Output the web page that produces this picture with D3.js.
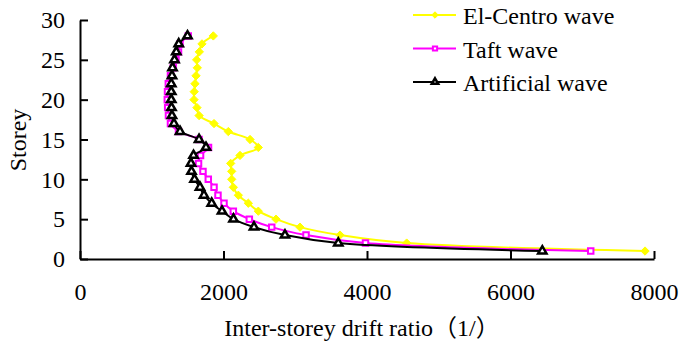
<!DOCTYPE html>
<html>
<head>
<meta charset="utf-8">
<script src="https://cdn.jsdelivr.net/npm/d3@7"></script>
<style>
  body { margin: 0; background: #fff; }
</style>
</head>
<body>
<svg id="chart" width="680" height="345"></svg>
<script>
// storey numbers (1 = ground)
const storeys = [1, 2, 3, 4, 5, 6, 7, 8, 9, 10, 11, 12, 13, 14, 15, 16, 17, 18, 19, 20, 21, 22, 23, 24, 25, 26, 27, 28];

// inter-storey drift ratio denominators
const elCentro = [7875, 4553, 3624, 3066, 2732, 2485, 2346, 2207, 2137, 2114, 2114, 2100, 2230, 2485,
  2370, 2067, 1868, 1660, 1630, 1589, 1592, 1603, 1617, 1635, 1626, 1663, 1700, 1858];
const taft = [7118, 3979, 3150, 2672, 2360, 2137, 2007, 1923, 1868, 1788, 1714, 1652, 1680, 1791,
  1659, 1373, 1261, 1233, 1222, 1217, 1220, 1231, 1261, 1300, 1338, 1373, 1394, 1509];
const artificial = [6443, 3600, 2857, 2425, 2139, 1979, 1835, 1728, 1672, 1596, 1554, 1547, 1582, 1756,
  1659, 1394, 1310, 1282, 1275, 1272, 1272, 1272, 1282, 1289, 1317, 1342, 1376, 1498];

const xTicks = [0, 2000, 4000, 6000, 8000];
const yTicks = [0, 5, 10, 15, 20, 25, 30];

const FONT = '"Liberation Serif", "Times New Roman", "Noto Sans CJK SC", serif';

const svg = d3.select("#chart");

const x = d3.scaleLinear().domain([0, 8000]).range([80, 654]);
const y = d3.scaleLinear().domain([0, 30]).range([259, 20]);

// axes - ticks point inward
const xAxis = svg.append("g")
  .attr("transform", `translate(0, ${y(0)})`)
  .call(d3.axisBottom(x).tickValues(xTicks).tickFormat(d3.format("d"))
    .tickSizeInner(-8).tickSizeOuter(0).tickPadding(24));
const yAxis = svg.append("g")
  .attr("transform", `translate(${x(0)}, 0)`)
  .call(d3.axisLeft(y).tickValues(yTicks).tickSizeInner(-8).tickSizeOuter(0).tickPadding(15));

[xAxis, yAxis].forEach(a => {
  a.attr("font-family", FONT).attr("font-size", 24);
  a.select(".domain").attr("stroke", "#000").attr("stroke-width", 2);
  a.selectAll(".tick line").attr("stroke", "#000").attr("stroke-width", 2);
  a.selectAll(".tick text").attr("fill", "#000");
});

// axis titles
svg.append("text")
  .attr("x", 362).attr("y", 336)
  .attr("text-anchor", "middle")
  .attr("font-family", FONT).attr("font-size", 24)
  .text("Inter-storey drift ratio（1/）");
svg.append("text")
  .attr("transform", "translate(26, 140) rotate(-90)")
  .attr("text-anchor", "middle")
  .attr("font-family", FONT).attr("font-size", 24)
  .text("Storey");

const series = [
  { name: "El-Centro wave", values: elCentro, color: "#ffff00", symbol: d3.symbolDiamond2, size: 44, fill: "#ffff00", sw: 1 },
  { name: "Taft wave", values: taft, color: "#ff00ff", symbol: d3.symbolSquare, size: 30, fill: "#fff", sw: 2 },
  { name: "Artificial wave", values: artificial, color: "#000000", symbol: d3.symbolTriangle, size: 30, fill: "#fff", sw: 2.5 }
];

const line = d3.line()
  .x(d => x(d[0]))
  .y(d => y(d[1]))
  .curve(d3.curveCatmullRom.alpha(0.5));

series.forEach(s => {
  const pts = s.values.map((v, i) => [v, storeys[i]]);
  const g = svg.append("g");
  g.append("path")
    .attr("d", line(pts))
    .attr("fill", "none")
    .attr("stroke", s.color)
    .attr("stroke-width", 2);
  g.selectAll("path.mk").data(pts).enter().append("path")
    .attr("class", "mk")
    .attr("transform", d => `translate(${x(d[0])}, ${y(d[1])})`)
    .attr("d", d3.symbol(s.symbol, s.size))
    .attr("fill", s.fill)
    .attr("stroke", s.color)
    .attr("stroke-width", s.sw);
});

// legend
const legend = svg.append("g").attr("transform", "translate(413, 15)");
series.forEach((s, i) => {
  const row = legend.append("g").attr("transform", `translate(0, ${i * 33.5})`);
  row.append("line")
    .attr("x1", 0).attr("x2", 43)
    .attr("stroke", s.color).attr("stroke-width", 2);
  row.append("path")
    .attr("transform", "translate(22, 0)")
    .attr("d", d3.symbol(s.symbol, s.size * 0.6))
    .attr("fill", s.fill)
    .attr("stroke", s.color)
    .attr("stroke-width", s.sw);
  row.append("text")
    .attr("x", 50).attr("y", 9)
    .attr("font-family", FONT).attr("font-size", 24)
    .text(s.name);
});
</script>
</body>
</html>
